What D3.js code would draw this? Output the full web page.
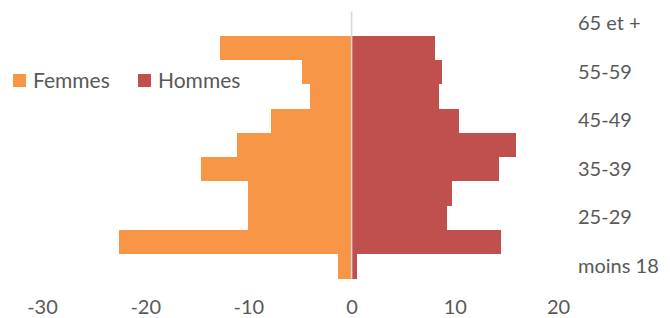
<!DOCTYPE html>
<html>
<head>
<meta charset="utf-8">
<script src="https://cdn.jsdelivr.net/npm/d3@7"></script>
<style>
  body { margin: 0; background: #fff; }
  svg { display: block; }
  .axis text { font-family: Lato, "Open Sans", sans-serif; font-size: 20px; fill: #595959; }
  .legend text { font-family: Lato, "Open Sans", sans-serif; font-size: 21px; fill: #595959; }
  .bars rect { shape-rendering: crispEdges; }
</style>
</head>
<body>
<div id="chart"></div>
<script>
// age groups, bottom to top
const categories = ['moins 18', '18-24', '25-29', '30-34', '35-39', '40-44',
  '45-49', '50-54', '55-59', '60-64', '65 et +'];
const femmes = [-1.3, -22.5, -10.0, -10.0, -14.6, -11.1, -7.85, -4.07, -4.85, -12.75, 0];
const hommes = [0.5, 14.5, 9.2, 9.7, 14.3, 15.9, 10.4, 8.5, 8.75, 8.06, 0];
const xTicks = [-30, -20, -10, 0, 10, 20];
const seriesNames = ['Femmes', 'Hommes'];
const colors = ['#F79646', '#C0504D'];

const width = 670;
const height = 318;

const svg = d3.select('#chart').append('svg')
  .attr('width', width)
  .attr('height', height);

const x = d3.scaleLinear()
  .domain([-30, 20])
  .range([42, 558]);

const y = d3.scaleBand()
  .domain(categories.slice().reverse())
  .range([11.5, 278.5])
  .padding(0);

const rows = categories.map((c, i) => ({ cat: c, f: femmes[i], h: hommes[i] }));

// femmes (left)
svg.append('g').attr('class', 'bars').selectAll('rect')
  .data(rows)
  .enter().append('rect')
  .attr('x', d => x(Math.min(0, d.f)))
  .attr('y', d => y(d.cat))
  .attr('width', d => Math.abs(x(d.f) - x(0)))
  .attr('height', y.bandwidth())
  .attr('fill', colors[0]);

// hommes (right)
svg.append('g').attr('class', 'bars').selectAll('rect')
  .data(rows)
  .enter().append('rect')
  .attr('x', d => x(Math.min(0, d.h)))
  .attr('y', d => y(d.cat))
  .attr('width', d => Math.abs(x(d.h) - x(0)))
  .attr('height', y.bandwidth())
  .attr('fill', colors[1]);

// zero line
svg.append('line')
  .attr('x1', x(0)).attr('x2', x(0))
  .attr('y1', y.range()[0]).attr('y2', y.range()[1])
  .attr('stroke', '#D9D9D9')
  .attr('stroke-width', 1.5);

// x axis
const xAxis = d3.axisBottom(x)
  .tickValues(xTicks)
  .tickSize(0)
  .tickPadding(0)
  .tickFormat(d => d);

svg.append('g')
  .attr('class', 'x axis')
  .attr('transform', 'translate(0, 300)')
  .call(xAxis)
  .call(g => g.select('.domain').remove());

// category labels on the right, every other one
const yAxis = d3.axisRight(y)
  .tickSize(0)
  .tickPadding(0)
  .tickFormat(d => categories.indexOf(d) % 2 === 0 ? d : '');

svg.append('g')
  .attr('class', 'y axis')
  .attr('transform', 'translate(578, 0)')
  .call(yAxis)
  .call(g => g.select('.domain').remove())
  .selectAll('text')
  .attr('text-anchor', 'start');

// legend
const legend = svg.append('g')
  .attr('class', 'legend')
  .selectAll('g')
  .data(seriesNames)
  .enter().append('g')
  .attr('transform', (d, i) => `translate(${i === 0 ? 13 : 138}, 74)`);

legend.append('rect')
  .attr('width', 13)
  .attr('height', 13)
  .attr('fill', (d, i) => colors[i]);

legend.append('text')
  .attr('x', 20)
  .attr('y', 13.5)
  .text(d => d);
</script>
</body>
</html>
